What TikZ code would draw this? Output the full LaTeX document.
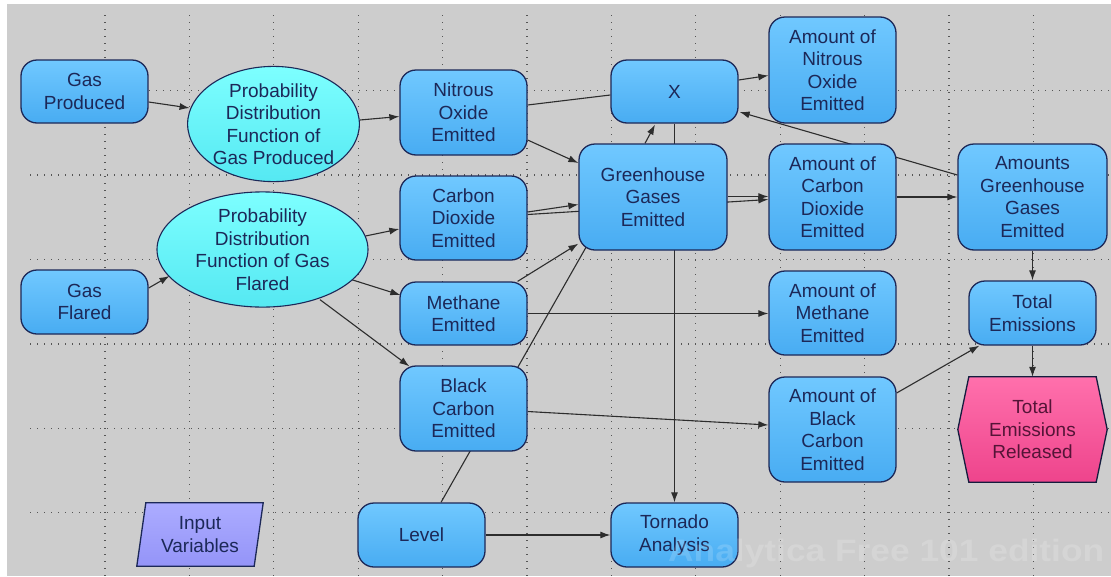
\documentclass[tikz,border=0pt]{standalone}
\usepackage{fontspec}
\usepackage{graphicx}
\setmainfont{Liberation Sans}
\usetikzlibrary{arrows.meta,calc,shapes.geometric}
\definecolor{bgc}{RGB}{205,205,205}
\definecolor{gridc}{RGB}{85,85,85}
\definecolor{navy}{RGB}{28,40,88}
\definecolor{edgec}{RGB}{45,45,45}
\definecolor{btop}{RGB}{112,200,255}
\definecolor{bbot}{RGB}{72,172,242}
\definecolor{ctop}{RGB}{125,255,255}
\definecolor{cbot}{RGB}{85,232,242}
\definecolor{ltop}{RGB}{172,172,255}
\definecolor{lbot}{RGB}{148,148,248}
\definecolor{ptop}{RGB}{255,112,172}
\definecolor{pbot}{RGB}{238,68,140}
\definecolor{ptext}{RGB}{85,20,55}
\pgfdeclarelayer{bg}
\pgfdeclarelayer{edges}
\pgfsetlayers{bg,edges,main}
\tikzset{
  lbl/.style={font=\fontsize{19}{22.5}\selectfont, text=navy, align=center, inner sep=0pt},
  bx/.style={lbl, draw=navy, line width=1.3pt, rounded corners=16pt, top color=btop, bottom color=bbot,
     minimum width=127pt, minimum height=64pt},
  ell/.style={lbl, ellipse, draw=navy, line width=1.1pt, top color=ctop, bottom color=cbot},
  conn/.style={draw=edgec, line width=1.1pt},
  arr/.style={conn, -{Latex[length=10pt,width=7pt]}},
  gridline/.style={draw=gridc, line width=1.3pt, dash pattern=on 1.3pt off 5.7pt},
}
\begin{document}
\begin{tikzpicture}[x=1pt,y=-1pt]
\useasboundingbox (0,0) rectangle (1111,576);
\begin{pgfonlayer}{bg}
  \fill[white] (0,0) rectangle (1111,576);
  \fill[bgc] (7,4) rectangle (1111,576);
  \foreach \gy in {90.7,175.1,259.5,343.9,428.3,512.7}
    \draw[gridline] (30,\gy) -- (1111,\gy);
  \foreach \gx in {105,189.4,273.8,358.2,442.6,527,611.4,695.8,780.2,864.6,949,1033.4}
    \draw[gridline] (\gx,15) -- (\gx,576);
\end{pgfonlayer}

% nodes
\node[bx, minimum height=63pt] (gp) at (84.5,91.5) {Gas\\Produced};
\node[bx] (gf) at (84.5,302) {Gas\\Flared};
\node[ell, minimum width=169pt, minimum height=106pt] (pdfp) at (273.5,124) {Probability\\Distribution\\Function of\\Gas Produced};
\node[ell, minimum width=211pt, minimum height=105pt] (pdff) at (262.5,249.5) {Probability\\Distribution\\Function of Gas\\Flared};
\node[lbl, minimum width=126pt, minimum height=63pt] (iv) at (200,534.5) {Input\\Variables};
\node[bx, minimum height=85pt] (no) at (463.5,112.5) {Nitrous\\Oxide\\Emitted};
\node[bx, minimum height=84pt] (co) at (463.5,218) {Carbon\\Dioxide\\Emitted};
\node[bx, minimum height=63pt] (me) at (463.5,313.5) {Methane\\Emitted};
\node[bx, minimum height=85pt] (bc) at (463.5,408.5) {Black\\Carbon\\Emitted};
\node[bx] (lv) at (421.5,535) {Level};
\node[bx, minimum height=63pt] (X) at (674.5,91.5) {X};
\node[bx, minimum width=148pt, minimum height=106pt] (gh) at (653,197) {Greenhouse\\Gases\\Emitted};
\node[bx] (ta) at (674.5,535) {Tornado\\Analysis};
\node[bx, minimum height=106pt] (ano) at (832.5,70) {Amount of\\Nitrous\\Oxide\\Emitted};
\node[bx, minimum height=106pt] (aco) at (832.5,197) {Amount of\\Carbon\\Dioxide\\Emitted};
\node[bx, minimum height=84pt] (ame) at (832.5,313) {Amount of\\Methane\\Emitted};
\node[bx, minimum height=105pt] (abc) at (832.5,429.5) {Amount of\\Black\\Carbon\\Emitted};
\node[bx, minimum width=149pt, minimum height=106pt] (agh) at (1032.5,197) {Amounts\\Greenhouse\\Gases\\Emitted};
\node[bx] (te) at (1032.5,313) {Total\\Emissions};
\node[lbl, text=ptext, minimum width=149pt, minimum height=105pt] (ter) at (1032.5,429.5) {Total\\Emissions\\Released};

% special shapes drawn behind their text
\begin{pgfonlayer}{edges}
  \path[draw=navy, line width=1.3pt, top color=ltop, bottom color=lbot]
    ($(iv.north west)+(9,0)$) -- (iv.north east) -- ($(iv.south east)+(-9,0)$) -- (iv.south west) -- cycle;
  \path[draw=navy!70!black, line width=1.3pt, top color=ptop, bottom color=pbot]
    ($(ter.north west)+(11,0)$) -- ($(ter.north east)+(-11,0)$) -- (ter.east) --
    ($(ter.south east)+(-11,0)$) -- ($(ter.south west)+(11,0)$) -- (ter.west) -- cycle;
\end{pgfonlayer}

% connectors
\begin{pgfonlayer}{edges}
  \draw[arr] ($(gp.east)+(0,10.5)$) -- ($(pdfp.west)+(2.5,-16)$);
  \draw[arr] ($(gf.east)+(0,-14)$) -- ($(pdff.west)+(13,26.5)$);
  \draw[arr] ($(pdfp.east)+(0,-4)$) -- ($(no.west)+(0,4)$);
  \draw[arr] ($(pdff.east)+(-3,-13.5)$) -- ($(co.west)+(0,11)$);
  \draw[arr] ($(pdff.east)+(-19,29.5)$) -- ($(me.west)+(1,-18.5)$);
  \draw[arr] ($(pdff.south)+(57.5,-8)$) -- ($(bc.north west)+(10,1)$);
  \draw[conn] ($(no.east)+(0,-7.5)$) -- ($(X.west)+(0,3.5)$);
  \draw[arr] ($(no.east)+(0,27.5)$) -- ($(gh.west)+(0,-34)$);
  \draw[arr] ($(co.east)+(0,-6)$) -- ($(gh.west)+(0,7.5)$);
  \draw[arr] ($(co.east)+(0,-3.5)$) -- ($(aco.west)+(0,2.5)$);
  \draw[arr] ($(gh.east)+(0,-0.5)$) -- ($(aco.west)+(0,-0.5)$);
  \draw[arr] ($(me.north east)+(-10,0)$) -- ($(gh.south west)+(0,-7)$);
  \draw[conn] ($(lv.north)+(19.5,0)$) -- ($(gh.south west)+(8,-4)$);
  \draw[arr] ($(gh.north)+(-8,0)$) -- ($(X.south)+(-19.5,1)$);
  \draw[arr] (X.south) -- (ta.north);
  \draw[arr] ($(X.east)+(0,-11.5)$) -- ($(ano.west)+(0,5.5)$);
  \draw[arr] ($(agh.west)+(0,-22)$) -- ($(X.east)+(1,20.5)$);
  \draw[arr] (aco.east) -- (agh.west);
  \draw[arr] (agh.south) -- (te.north);
  \draw[arr] (te.south) -- (ter.north);
  \draw[arr] ($(abc.east)+(0,-36.5)$) -- ($(te.south west)+(11,0)$);
  \draw[arr] (me.east) -- (me.east -| ame.west);
  \draw[arr] ($(bc.east)+(0,3)$) -- ($(abc.west)+(0,-4.5)$);
  \draw[arr] (lv.east) -- (ta.west);
\end{pgfonlayer}

% watermark (faint)
\node[anchor=base west, inner sep=0pt, text=white, text opacity=0.16, font=\fontsize{31}{31}\bfseries\selectfont] (wm) at (668,561)
  {\scalebox{1.14}[1]{Analytica Free 101 edition}};
\end{tikzpicture}
\end{document}
